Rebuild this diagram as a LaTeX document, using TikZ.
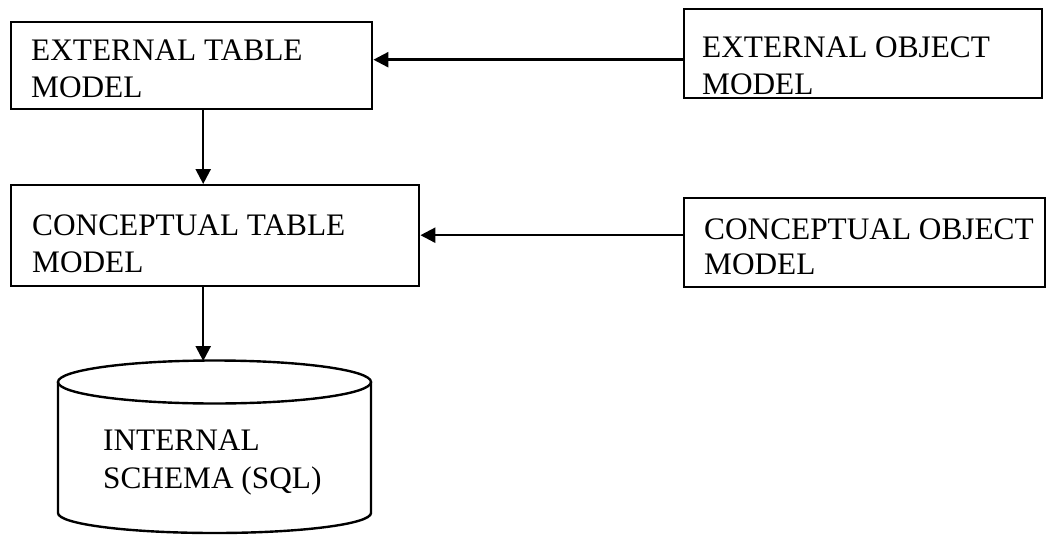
\documentclass[tikz,border=0pt]{standalone}
\usepackage{fontspec}
\setmainfont{Liberation Serif}
\usetikzlibrary{arrows.meta}
\begin{document}
\begin{tikzpicture}[x=1pt,y=-1pt,
  boxnode/.style={draw,line width=2.4pt,anchor=north west,inner sep=0pt,rectangle},
  lbl/.style={anchor=base west,inner sep=0pt,font=\fontsize{31.3}{36}\selectfont},
  arr/.style={line width=2.4pt,-{Triangle[length=15pt,width=15pt]}}]
\useasboundingbox (0,0) rectangle (1057,535);
% boxes
\node[boxnode,minimum width=361pt,minimum height=87pt] (etm) at (10,21) {};
\node[boxnode,minimum width=358pt,minimum height=89pt] (eom) at (683,8) {};
\node[boxnode,minimum width=408pt,minimum height=101pt] (ctm) at (10,184) {};
\node[boxnode,minimum width=361pt,minimum height=89pt] (com) at (683,197) {};
% labels
\node[lbl] (etm1) at (31,61) {EXTERNAL TABLE};
\node[lbl] (etm2) at (31,97) {MODEL};
\node[lbl] (eom1) at (702,57) {EXTERNAL OBJECT};
\node[lbl] (eom2) at (702,94) {MODEL};
\node[lbl] (ctm1) at (32,235) {CONCEPTUAL TABLE};
\node[lbl] (ctm2) at (32,272) {MODEL};
\node[lbl] (com1) at (704,239) {CONCEPTUAL OBJECT};
\node[lbl] (com2) at (704,274) {MODEL};
% cylinder
\draw[line width=2.4pt] (214.5,382) ellipse [x radius=156.5, y radius=21.5];
\draw[line width=2.4pt] (58,382) -- (58,513) arc[start angle=180,end angle=360,x radius=156.5,y radius=-20] -- (371,382);
\node[lbl] (db1) at (103,450) {INTERNAL};
\node[lbl] (db2) at (103,488) {SCHEMA (SQL)};
% connectors
\coordinate (a1) at ([yshift=-6pt]eom.west);
\draw[arr] (a1) -- (a1 -| etm.east);
\coordinate (a2) at ([yshift=7.5pt]com.west);
\draw[arr] (a2) -- (a2 -| ctm.east);
\coordinate (d1) at ([xshift=11.5pt]etm.south);
\draw[arr] (d1) -- (d1 |- ctm.north);
\coordinate (d2) at (d1 |- ctm.south);
\coordinate (dbtop) at (d1 |- 0,361);
\draw[arr] (d2) -- (dbtop);
\end{tikzpicture}
\end{document}
